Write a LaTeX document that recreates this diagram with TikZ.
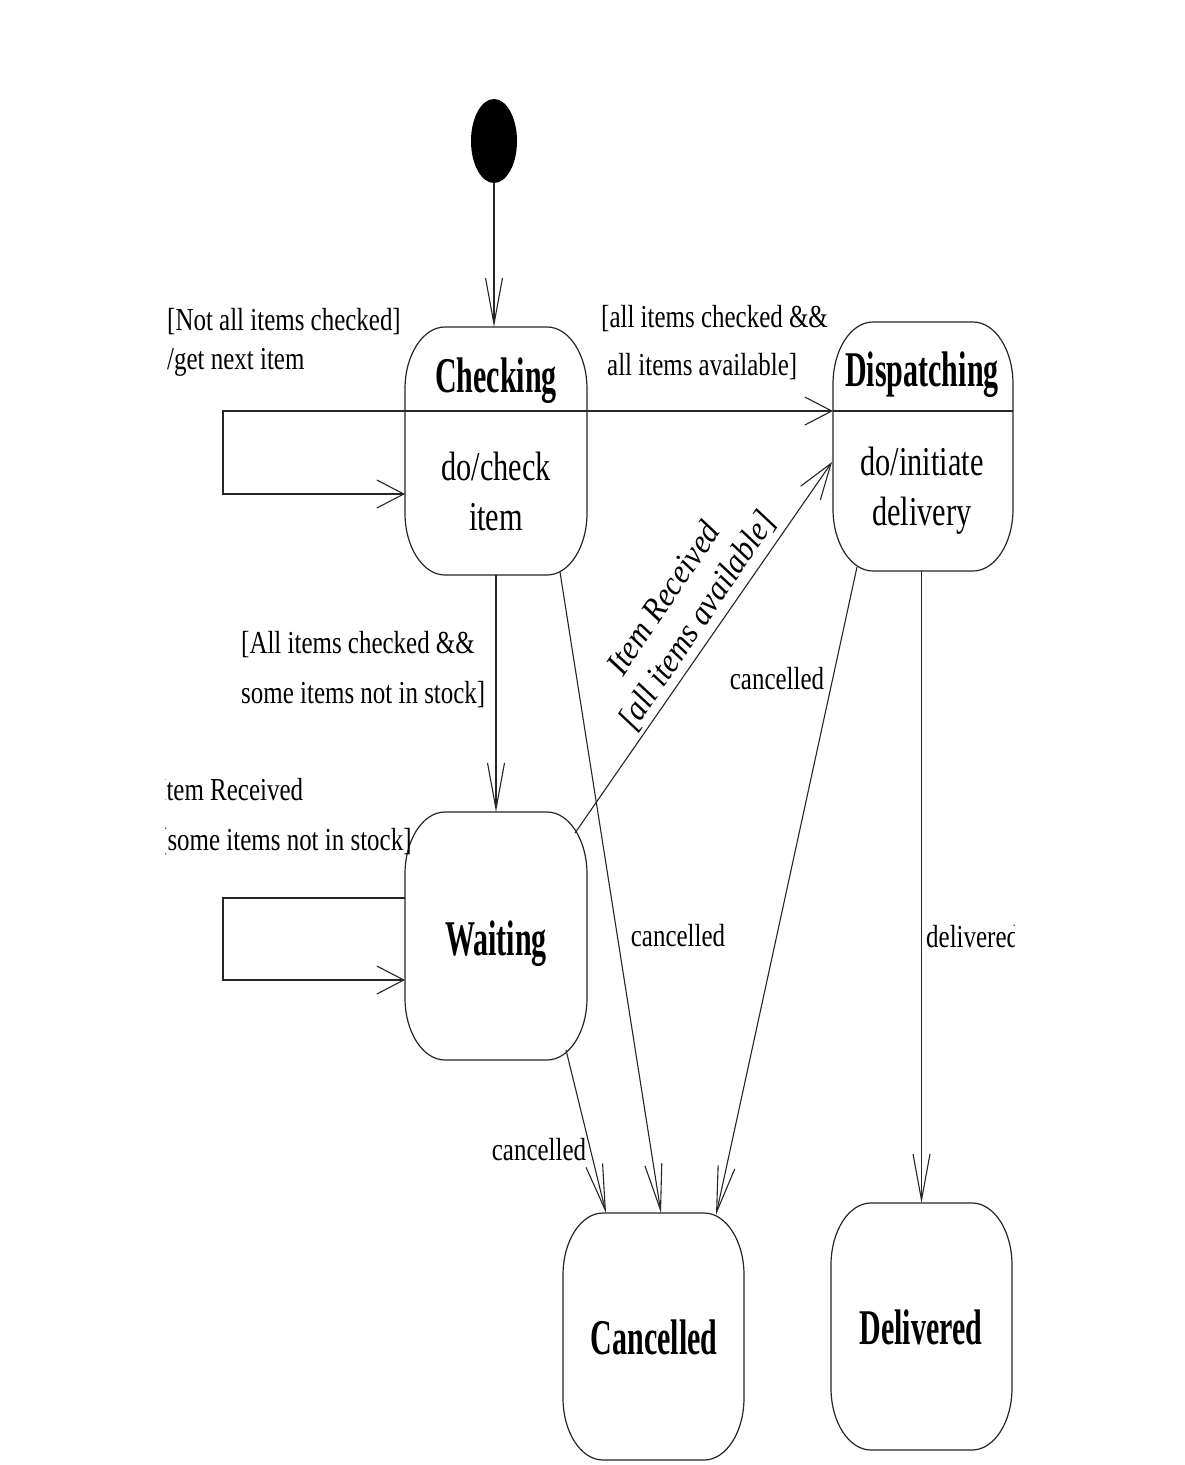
\documentclass[tikz,border=0pt]{standalone}
\usepackage{fontspec}
\setmainfont{Liberation Serif}[FakeStretch=0.78]
\newfontfamily\namefont{Liberation Serif}[FakeStretch=0.6]
\newfontfamily\actfont{Liberation Serif}[FakeStretch=0.74]
\newfontfamily\lblitfont{Liberation Serif}[FakeStretch=0.92]
\usetikzlibrary{arrows.meta,shapes.geometric}
\tikzset{
  state/.style={rectangle,draw=none,inner sep=0pt,outer sep=0pt},
  stline/.style={line width=1.2pt,black!85},
  stname/.style={font=\namefont\bfseries\fontsize{50}{56}\selectfont,inner sep=0pt,anchor=base},
  stact/.style={font=\actfont\fontsize{41}{48}\selectfont,inner sep=0pt,anchor=base},
  lbl/.style={font=\fontsize{32}{40}\selectfont,inner sep=0pt,anchor=base west},
  lblc/.style={font=\fontsize{32}{40}\selectfont,inner sep=0pt,anchor=base},
  conn/.style={line width=1.1pt,black!85},
  vtip/.style={-{Straight Barb[length=46pt,width=17pt]}},
  htip/.style={-{Straight Barb[length=27pt,width=28pt]}},
  dtip/.style={-{Straight Barb[length=36pt,width=24pt]}},
}
\newcommand\stoutline[1]{%
  \draw[stline] ([xshift=40pt]#1.north west) -- ([xshift=-40pt]#1.north east)
    arc[start angle=90,end angle=0,x radius=40pt,y radius=62pt]
    -- ([yshift=62pt]#1.south east)
    arc[start angle=0,end angle=-90,x radius=40pt,y radius=62pt]
    -- ([xshift=40pt]#1.south west)
    arc[start angle=-90,end angle=-180,x radius=40pt,y radius=62pt]
    -- ([yshift=-62pt]#1.north west)
    arc[start angle=180,end angle=90,x radius=40pt,y radius=62pt] -- cycle;}
\begin{document}
\begin{tikzpicture}[x=1pt,y=1pt]
\fill[white] (0,0) rectangle (1184,-1465);
\useasboundingbox (0,0) rectangle (1184,-1465);
\begin{scope}
\clip (165.5,0) rectangle (1014.8,-1465);
% states
\node[state,minimum width=182pt,minimum height=248pt] (chk) at (496,-451) {};
\node[state,minimum width=180pt,minimum height=249pt] (dis) at (923,-446.5) {};
\node[state,minimum width=182pt,minimum height=248pt] (wai) at (496,-936) {};
\node[state,minimum width=181pt,minimum height=247pt] (can) at (653.5,-1336.5) {};
\node[state,minimum width=181pt,minimum height=247pt] (del) at (921.5,-1326.5) {};
\node[ellipse,fill=black,minimum width=46pt,minimum height=84pt,inner sep=0pt,outer sep=0pt] (init) at (494,-141) {};
\stoutline{chk}
\stoutline{dis}
\stoutline{wai}
\stoutline{can}
\stoutline{del}
% compartment lines
\draw[conn] ([yshift=-84pt]chk.north west) -- ([yshift=-84pt]chk.north east);
\draw[conn] ([yshift=-89pt]dis.north west) -- ([yshift=-89pt]dis.north east);
% state texts
\node[stname] (chkname) at (496,-392) {Checking};
\node[stact] (chkact1) at (496,-480) {do/check};
\node[stact] (chkact2) at (496,-530) {item};
\node[stname] (disname) at (922,-386) {Dispatching};
\node[stact] (disact1) at (922,-475) {do/initiate};
\node[stact] (disact2) at (922,-525) {delivery};
\node[stname] (wainame) at (496,-955) {Waiting};
\node[stname] (canname) at (654,-1354) {Cancelled};
\node[stname] (delname) at (921,-1344) {Delivered};
% loops
\coordinate (cl1) at (223,-411);
\coordinate (cl2) at (223,-494);
\draw[conn,htip] ([yshift=-84pt]chk.north west) -- (cl1) -- (cl2) -- ([yshift=-167pt]chk.north west);
\coordinate (wl1) at (223,-898);
\coordinate (wl2) at (223,-980);
\draw[conn,htip] ([yshift=-86pt]wai.north west) -- (wl1) -- (wl2) -- ([yshift=-168pt]wai.north west);
% transitions
\draw[conn,vtip] (init.south) -- (init.south |- chk.north);
\draw[conn,htip] ([yshift=-84pt]chk.north east) -- ([yshift=-89pt]dis.north west);
\draw[conn,vtip] (chk.south) -- (wai.north);
\draw[conn,dtip] ([xshift=-12pt,yshift=-21pt]wai.north east) -- ([xshift=-1pt,yshift=-140pt]dis.north west);
\draw[conn,vtip] ([xshift=-27pt,yshift=3pt]chk.south east) -- ([xshift=7.5pt]can.north);
\draw[conn,vtip] ([xshift=-21pt,yshift=10pt]wai.south east) -- ([xshift=43pt]can.north west);
\draw[conn,vtip] ([xshift=24pt,yshift=4pt]dis.south west) -- ([xshift=-28pt,yshift=-2pt]can.north east);
\draw[conn,vtip] (dis.south -| del.north) -- (del.north);
% labels
\node[lbl] (l1a) at (167,-330) {[Not all items checked]};
\node[lbl] (l1b) at (167,-369) {/get next item};
\node[lbl] (l2a) at (601,-327) {[all items checked \&\&};
\node[lbl] (l2b) at (607,-375) {all items available]};
\node[lbl] (l3a) at (241,-653) {[All items checked \&\&};
\node[lbl] (l3b) at (241,-703) {some items not in stock]};
\node[lbl] (l4a) at (158,-800) {Item Received};
\node[lbl] (l4b) at (159,-850) {[some items not in stock]};
\node[font=\lblitfont\itshape\fontsize{34}{40}\selectfont,align=center,rotate=56,inner sep=0pt] (l5) at (681,-610) {Item Received\\{[}all items available]};
\node[lblc] (l6) at (777,-689) {cancelled};
\node[lblc] (l7) at (678,-946) {cancelled};
\node[lblc] (l8) at (539,-1160) {cancelled};
\node[lbl] (l9) at (926,-947) {delivered};
\end{scope}
\end{tikzpicture}
\end{document}
